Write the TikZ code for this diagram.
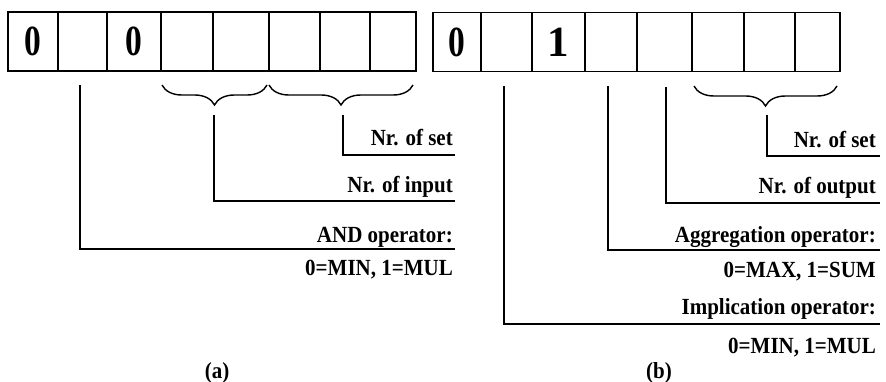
\documentclass[tikz,border=0pt]{standalone}
\usepackage{fontspec}
\setmainfont{Liberation Serif}
\usetikzlibrary{decorations.pathreplacing}
% text set slightly taller than wide
\newcommand{\tallbox}[1]{\scalebox{1}[1.1]{#1}}
% narrow bold zero for the register cells
\newcommand{\narrowzero}{\scalebox{0.78}[1]{0}}

\begin{document}
\begin{tikzpicture}[x=1pt, y=-1pt,
  cell/.style={draw, line width=1.6pt, inner sep=0pt, outer sep=0pt, minimum height=59},
  digit/.style={font=\fontsize{43}{43}\selectfont\bfseries, inner sep=0pt},
  lbl/.style={font=\fontsize{21}{21}\selectfont\bfseries, anchor=base east, inner sep=0pt},
  captext/.style={font=\fontsize{21}{21}\selectfont\bfseries, anchor=base, inner sep=0pt},
  lead/.style={line width=1.6pt},
  curly/.style={decorate, decoration={brace, mirror, amplitude=20pt}, line width=1.4pt}]
\useasboundingbox (0,0) rectangle (886,382);

% register (a)
\foreach \i/\l/\r in {1/8/58, 2/58/107, 3/107/161, 4/161/213, 5/213/269, 6/269/320, 7/320/370, 8/370/416}
  \node[cell, minimum width={\r-\l}] (a\i) at ({(\l+\r)/2},41.5) {};
\node[digit] (a1d) at (a1) {\narrowzero};
\node[digit] (a3d) at (a3) {\narrowzero};

% register (b)
\foreach \i/\l/\r in {1/433/481, 2/481/532, 3/532/585, 4/585/637, 5/637/692, 6/692/744, 7/744/795, 8/795/840}
  \node[cell, minimum width={\r-\l}] (b\i) at ({(\l+\r)/2},42) {};
\node[digit] (b1d) at (b1) {\narrowzero};
\node[digit] (b3d) at (b3) {1};

% braces grouping the cells
\draw[curly] (162,85) -- (267,85);
\draw[curly] (269,85) -- (413,85);
\draw[curly] (694,86) -- (837,86);

% labels of (a)
\node[lbl] (aSetT) at (453,146) {\tallbox{Nr. of set}};
\node[lbl] (aInT)  at (453,193) {\tallbox{Nr. of input}};
\node[lbl] (aAndT) at (453,242) {\tallbox{AND operator:}};
\node[lbl] (aAndV) at (453,275) {\tallbox{0=MIN, 1=MUL}};
\node[captext] (capA)  at (217,378) {\tallbox{(a)}};

% labels of (b)
\node[lbl] (bSetT) at (876,148) {\tallbox{Nr. of set}};
\node[lbl] (bOutT) at (876,194) {\tallbox{Nr. of output}};
\node[lbl] (bAggT) at (876,243) {\tallbox{Aggregation operator:}};
\node[lbl] (bAggV) at (876,277) {\tallbox{0=MAX, 1=SUM}};
\node[lbl] (bImpT) at (876,314) {\tallbox{Implication operator:}};
\node[lbl] (bImpV) at (876,353) {\tallbox{0=MIN, 1=MUL}};
\node[captext] (capB)  at (659,378) {\tallbox{(b)}};

% leader lines of (a)
\coordinate (aSetS) at (343,115);  \coordinate (aSetE) at (455,155);
\coordinate (aInS)  at (214,115);  \coordinate (aInE)  at (455,201);
\coordinate (aAndS) at (80,85);    \coordinate (aAndE) at (455,249);
\draw[lead] (aSetS) |- (aSetE);
\draw[lead] (aInS)  |- (aInE);
\draw[lead] (aAndS) |- (aAndE);

% leader lines of (b)
\coordinate (bSetS) at (767,115);  \coordinate (bSetE) at (880,156);
\coordinate (bOutS) at (666,87);   \coordinate (bOutE) at (880,203);
\coordinate (bAggS) at (608,86);   \coordinate (bAggE) at (880,250);
\coordinate (bImpS) at (504,86);   \coordinate (bImpE) at (880,324);
\draw[lead] (bSetS) |- (bSetE);
\draw[lead] (bOutS) |- (bOutE);
\draw[lead] (bAggS) |- (bAggE);
\draw[lead] (bImpS) |- (bImpE);
\end{tikzpicture}
\end{document}
